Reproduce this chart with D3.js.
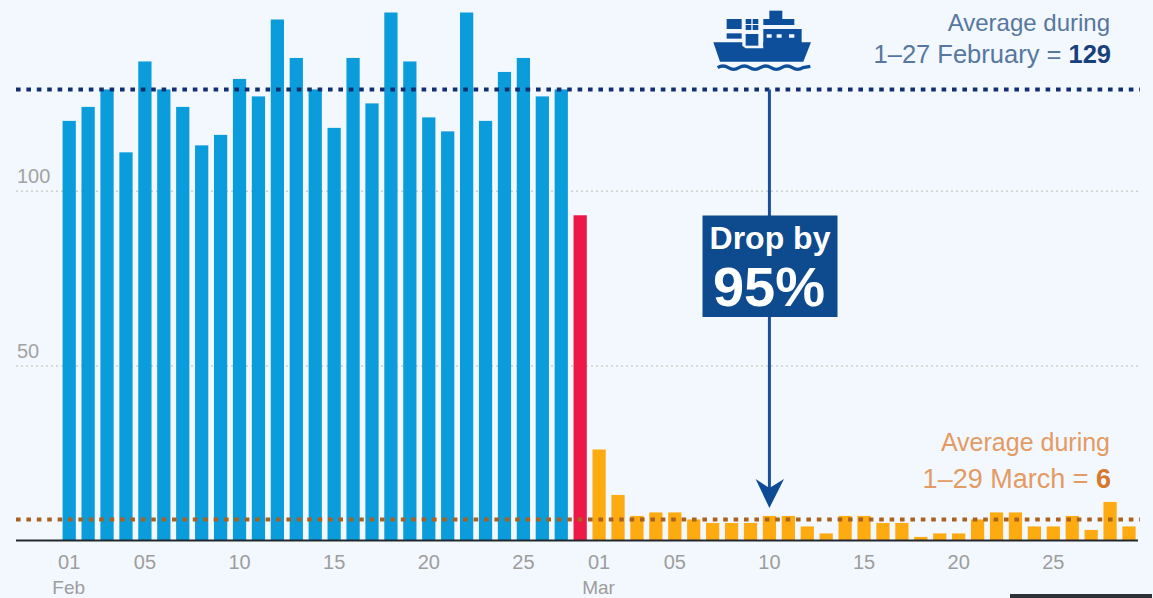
<!DOCTYPE html>
<html>
<head>
<meta charset="utf-8">
<script src="https://cdn.jsdelivr.net/npm/d3@7"></script>
<style>
  html, body { margin: 0; padding: 0; background: #f3f8fe; overflow: hidden; }
  svg { display: block; font-family: "Liberation Sans", Arial, sans-serif; }
</style>
</head>
<body>
<svg id="chart" width="1153" height="598"></svg>
<script>
// Daily vessel counts
const febValues = [120,124,129,111,137,129,124,113,116,132,127,149,138,129,118,138,125,151,137,121,117,151,120,134,138,127,129];
const transitionValue = 93;
const marValues = [26,13,7,8,8,6,5,5,5,7,7,4,2,7,7,5,5,1,2,2,6,8,8,4,4,7,3,11,4];
const febAverage = 129;
const marAverage = 6;
const yTicks = [50, 100];
const febTickDays = [1, 5, 10, 15, 20, 25];
const marTickDays = [1, 5, 10, 15, 20, 25];
const dropBadge = ["Drop by", "95%"];

const pad = d => String(d).padStart(2, "0");
const rows = [
  ...febValues.map((v, i) => ({ key: `Feb ${pad(i + 1)}`, value: v, fill: "#0a9cdb" })),
  { key: "Feb 28", value: transitionValue, fill: "#ee1848" },
  ...marValues.map((v, i) => ({ key: `Mar ${pad(i + 1)}`, value: v, fill: "#fdab10" }))
];

const W = 1153, H = 598;
const baseY = 540.4, left = 16, right = 1138;
const step = 18.925, firstCentre = 69.2;
const svg = d3.select("#chart");

svg.append("rect").attr("width", W).attr("height", H).attr("fill", "#f3f8fe");

const x = d3.scaleBand()
  .domain(rows.map(d => d.key))
  .range([firstCentre - step / 2, firstCentre - step / 2 + step * rows.length])
  .paddingInner(0.3)
  .paddingOuter(0.15);

const y = d3.scaleLinear().domain([0, 100]).range([baseY, baseY - 349.6]);

// Horizontal gridlines and their labels
const yAxis = svg.append("g")
  .attr("transform", `translate(${left},0)`)
  .call(d3.axisRight(y).tickValues(yTicks).tickSize(right + 2 - left).tickFormat(d3.format("d")));
yAxis.select(".domain").remove();
yAxis.selectAll("line").attr("stroke", "#cfcfcb").attr("stroke-width", 1.5).attr("stroke-dasharray", "2 3");
yAxis.selectAll("text")
  .attr("x", 1).attr("dy", "-8").attr("y", 0)
  .attr("text-anchor", "start")
  .attr("fill", "#a3a3a3").attr("font-size", 20).attr("font-family", "Liberation Sans, Arial, sans-serif");

// Bars
svg.append("g").selectAll("rect").data(rows).join("rect")
  .attr("x", d => x(d.key))
  .attr("width", x.bandwidth())
  .attr("y", d => y(d.value))
  .attr("height", d => y(0) - y(d.value))
  .attr("fill", d => d.fill);

// X axis: day numbers, with the month under the first day of each month
const tickKeys = [...febTickDays.map(d => `Feb ${pad(d)}`), ...marTickDays.map(d => `Mar ${pad(d)}`)];
const xAxis = svg.append("g")
  .attr("transform", `translate(0,${baseY})`)
  .call(d3.axisBottom(x).tickValues(tickKeys).tickSize(0).tickPadding(0).tickFormat(k => k.slice(4)));
xAxis.select(".domain").remove();
xAxis.selectAll("text")
  .attr("y", 28.5).attr("dy", 0)
  .attr("fill", "#9d9d9d").attr("font-size", 20).attr("font-family", "Liberation Sans, Arial, sans-serif");
[["Feb 01", "Feb"], ["Mar 01", "Mar"]].forEach(([k, label]) => {
  svg.append("text")
    .attr("x", x(k) + x.bandwidth() / 2 - 0.5).attr("y", 594)
    .attr("text-anchor", "middle").attr("fill", "#9d9d9d").attr("font-size", 19)
    .text(label);
});

svg.append("line")
  .attr("x1", left).attr("x2", right).attr("y1", baseY).attr("y2", baseY)
  .attr("stroke", "#23282e").attr("stroke-width", 2);

// Average lines
const avgLine = (value, colour) => svg.append("line")
  .attr("x1", left).attr("x2", right + 2).attr("y1", y(value)).attr("y2", y(value))
  .attr("stroke", colour).attr("stroke-width", 4).attr("stroke-dasharray", "4.6 5.8");
avgLine(febAverage, "#12306f");
avgLine(marAverage, "#a8611f");

// Arrow from the February average down to the March average
const arrowX = x("Mar 10") + x.bandwidth() / 2;
svg.append("line")
  .attr("x1", arrowX).attr("x2", arrowX).attr("y1", y(febAverage)).attr("y2", 490)
  .attr("stroke", "#1a5099").attr("stroke-width", 3);
svg.append("path")
  .attr("transform", `translate(${arrowX},0)`)
  .attr("d", "M-13.8,479 L0,508 L14.6,479 L0,488 Z")
  .attr("fill", "#0f4a94");

// Badge on the arrow
svg.append("rect")
  .attr("x", 702.5).attr("y", 215.5).attr("width", 135).attr("height", 101.5)
  .attr("fill", "#0e4a8e");
svg.append("text").attr("x", 770).attr("y", 248.5)
  .attr("text-anchor", "middle").attr("fill", "#fff")
  .attr("font-size", 32).attr("font-weight", 700).text(dropBadge[0]);
svg.append("text").attr("x", 769).attr("y", 306)
  .attr("text-anchor", "middle").attr("fill", "#fff")
  .attr("font-size", 56).attr("font-weight", 700).text(dropBadge[1]);

// Average captions
function caption(lineOne, lineTwo, bold, y1, y2, size1, size2, colour, boldColour) {
  svg.append("text").attr("x", 1110).attr("y", y1).attr("text-anchor", "end")
    .attr("fill", colour).attr("font-size", size1).text(lineOne);
  const t = svg.append("text").attr("x", 1111).attr("y", y2).attr("text-anchor", "end")
    .attr("fill", colour).attr("font-size", size2);
  t.append("tspan").text(lineTwo + " ");
  t.append("tspan").attr("font-weight", 700).attr("fill", boldColour).text(bold);
}
caption("Average during", "1–27 February =", String(febAverage), 31, 63, 24, 25.5, "#56779f", "#17407c");
caption("Average during", "1–29 March =", String(marAverage), 451, 488, 25, 27, "#e39a63", "#d5792d");

// Container ship pictogram
const ship = svg.append("g").attr("transform", "translate(705,5) scale(0.3333)").attr("fill", "#0e4f9c");
[
  [65, 42, 45, 30], [65, 85, 45, 16], [122, 42, 17, 15], [143, 42, 17, 15],
  [122, 60, 17, 15], [143, 60, 17, 15], [122, 87, 38, 35],
  [193, 17, 39, 27], [175, 42, 93, 18]
].forEach(([a, b, c, e]) => ship.append("rect").attr("x", a).attr("y", b).attr("width", c).attr("height", e));
ship.append("path").attr("fill-rule", "evenodd")
  .attr("d", "M175,72 H290 V125 H175 Z M185,88 V98 H200 V88 Z M215,88 V98 H230 V88 Z M252,88 V98 H268 V88 Z");
ship.append("path").attr("d", "M25,112 H112 V122 L122,130 H175 V112 H318 L295,170 H45 Z");
ship.append("path")
  .attr("d", "M38,188 Q54,178 70,188 T102,188 T134,188 T166,188 T198,188 T230,188 T262,188 T294,188 L316,184")
  .attr("fill", "none").attr("stroke", "#0e4f9c").attr("stroke-width", 10);

// Dark edge along the lower right corner
svg.append("rect").attr("x", 1010).attr("y", 594).attr("width", 142).attr("height", 4).attr("fill", "#2e3236");
</script>
</body>
</html>
